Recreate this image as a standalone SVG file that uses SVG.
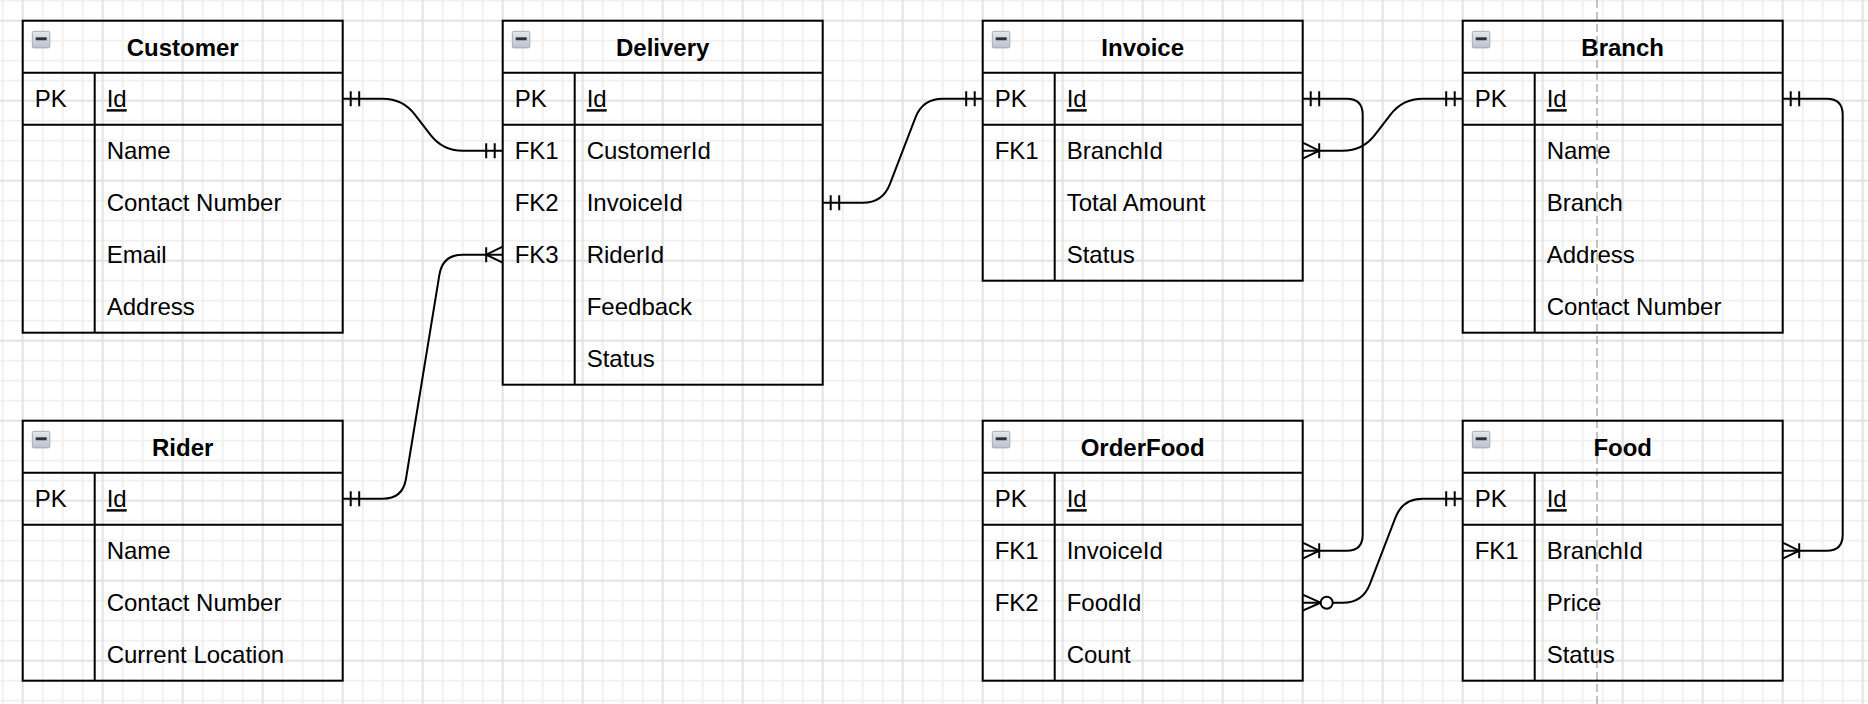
<svg xmlns="http://www.w3.org/2000/svg" xmlns:xlink="http://www.w3.org/1999/xlink" width="1868" height="704" viewBox="0 0 1868 704">
<style>
.tb{fill:none;stroke:#000;stroke-width:2}
.t{font-family:"Liberation Sans",Arial,Helvetica,sans-serif;font-size:24px;fill:#000}
.title{font-weight:bold;text-anchor:middle}
.u{text-decoration:underline}
.edge{fill:none;stroke:#000;stroke-width:2}
.mk{fill:none;stroke:#000;stroke-width:2}
</style>
<defs>
<pattern id="grid" patternUnits="userSpaceOnUse" x="22.7" y="20.7" width="80" height="80">
<path d="M20,0V80M40,0V80M60,0V80M0,20H80M0,40H80M0,60H80" stroke="#f1f1f1" stroke-width="2" fill="none"/>
<path d="M0,0V80M80,0V80M0,0H80M0,80H80" stroke="#e2e2e2" stroke-width="2" fill="none"/>
</pattern>
<linearGradient id="ig" x1="0" y1="0" x2="0" y2="1">
<stop offset="0" stop-color="#e4e8ee"/>
<stop offset="1" stop-color="#b9c2cc"/>
</linearGradient>
<g id="icon">
<rect x="9.6" y="10.6" width="17.5" height="16.6" rx="1.5" fill="url(#ig)" stroke="#a3adb8" stroke-width="1"/>
<rect x="13" y="16.6" width="11" height="3" fill="#333"/>
</g>
<marker id="mOne" markerUnits="userSpaceOnUse" orient="auto-start-reverse" markerWidth="40" markerHeight="40" refX="0" refY="0" overflow="visible" style="overflow:visible">
<path class="mk" d="M-8,-7.5V7.5M-16.5,-7.5V7.5"/>
</marker>
<marker id="mMany" markerUnits="userSpaceOnUse" orient="auto-start-reverse" markerWidth="40" markerHeight="40" refX="0" refY="0" overflow="visible" style="overflow:visible">
<path class="mk" d="M0,-8L-16.5,0L0,8M-16.5,-7.5V7.5"/>
</marker>
<marker id="mZeroMany" markerUnits="userSpaceOnUse" orient="auto-start-reverse" markerWidth="50" markerHeight="40" refX="0" refY="0" overflow="visible" style="overflow:visible">
<path class="mk" d="M0,-8L-18,0L0,8"/>
<circle cx="-24" cy="0" r="6" fill="#fff" stroke="#000" stroke-width="2"/>
</marker>
</defs>
<rect x="0" y="0" width="1868" height="704" fill="#fff"/>
<rect x="0" y="0" width="1868" height="704" fill="url(#grid)"/>
<line x1="1597" y1="0" x2="1597" y2="704" stroke="#bdbdbd" stroke-width="1.8" stroke-dasharray="8 4"/>

<g id="customer">
<rect class="tb" x="22.7" y="20.7" width="320" height="312"/>
<path class="tb" d="M22.7,72.7H342.7M22.7,124.7H342.7M94.7,72.7V332.7"/>
<use xlink:href="#icon" x="22.7" y="20.7"/>
<text class="t title" x="182.7" y="56.2">Customer</text>
<text class="t" x="34.7" y="107.2">PK</text>
<text class="t u" x="106.7" y="107.2">Id</text>
<text class="t" x="106.7" y="159.2">Name</text>
<text class="t" x="106.7" y="211.2">Contact Number</text>
<text class="t" x="106.7" y="263.2">Email</text>
<text class="t" x="106.7" y="315.2">Address</text>
</g>

<g id="delivery">
<rect class="tb" x="502.7" y="20.7" width="320" height="364"/>
<path class="tb" d="M502.7,72.7H822.7M502.7,124.7H822.7M574.7,72.7V384.7"/>
<use xlink:href="#icon" x="502.7" y="20.7"/>
<text class="t title" x="662.7" y="56.2">Delivery</text>
<text class="t" x="514.7" y="107.2">PK</text>
<text class="t u" x="586.7" y="107.2">Id</text>
<text class="t" x="514.7" y="159.2">FK1</text>
<text class="t" x="586.7" y="159.2">CustomerId</text>
<text class="t" x="514.7" y="211.2">FK2</text>
<text class="t" x="586.7" y="211.2">InvoiceId</text>
<text class="t" x="514.7" y="263.2">FK3</text>
<text class="t" x="586.7" y="263.2">RiderId</text>
<text class="t" x="586.7" y="315.2">Feedback</text>
<text class="t" x="586.7" y="367.2">Status</text>
</g>

<g id="invoice">
<rect class="tb" x="982.7" y="20.7" width="320" height="260"/>
<path class="tb" d="M982.7,72.7H1302.7M982.7,124.7H1302.7M1054.7,72.7V280.7"/>
<use xlink:href="#icon" x="982.7" y="20.7"/>
<text class="t title" x="1142.7" y="56.2">Invoice</text>
<text class="t" x="994.7" y="107.2">PK</text>
<text class="t u" x="1066.7" y="107.2">Id</text>
<text class="t" x="994.7" y="159.2">FK1</text>
<text class="t" x="1066.7" y="159.2">BranchId</text>
<text class="t" x="1066.7" y="211.2">Total Amount</text>
<text class="t" x="1066.7" y="263.2">Status</text>
</g>

<g id="branch">
<rect class="tb" x="1462.7" y="20.7" width="320" height="312"/>
<path class="tb" d="M1462.7,72.7H1782.7M1462.7,124.7H1782.7M1534.7,72.7V332.7"/>
<use xlink:href="#icon" x="1462.7" y="20.7"/>
<text class="t title" x="1622.7" y="56.2">Branch</text>
<text class="t" x="1474.7" y="107.2">PK</text>
<text class="t u" x="1546.7" y="107.2">Id</text>
<text class="t" x="1546.7" y="159.2">Name</text>
<text class="t" x="1546.7" y="211.2">Branch</text>
<text class="t" x="1546.7" y="263.2">Address</text>
<text class="t" x="1546.7" y="315.2">Contact Number</text>
</g>

<g id="rider">
<rect class="tb" x="22.7" y="420.7" width="320" height="260"/>
<path class="tb" d="M22.7,472.7H342.7M22.7,524.7H342.7M94.7,472.7V680.7"/>
<use xlink:href="#icon" x="22.7" y="420.7"/>
<text class="t title" x="182.7" y="456.2">Rider</text>
<text class="t" x="34.7" y="507.2">PK</text>
<text class="t u" x="106.7" y="507.2">Id</text>
<text class="t" x="106.7" y="559.2">Name</text>
<text class="t" x="106.7" y="611.2">Contact Number</text>
<text class="t" x="106.7" y="663.2">Current Location</text>
</g>

<g id="orderfood">
<rect class="tb" x="982.7" y="420.7" width="320" height="260"/>
<path class="tb" d="M982.7,472.7H1302.7M982.7,524.7H1302.7M1054.7,472.7V680.7"/>
<use xlink:href="#icon" x="982.7" y="420.7"/>
<text class="t title" x="1142.7" y="456.2">OrderFood</text>
<text class="t" x="994.7" y="507.2">PK</text>
<text class="t u" x="1066.7" y="507.2">Id</text>
<text class="t" x="994.7" y="559.2">FK1</text>
<text class="t" x="1066.7" y="559.2">InvoiceId</text>
<text class="t" x="994.7" y="611.2">FK2</text>
<text class="t" x="1066.7" y="611.2">FoodId</text>
<text class="t" x="1066.7" y="663.2">Count</text>
</g>

<g id="food">
<rect class="tb" x="1462.7" y="420.7" width="320" height="260"/>
<path class="tb" d="M1462.7,472.7H1782.7M1462.7,524.7H1782.7M1534.7,472.7V680.7"/>
<use xlink:href="#icon" x="1462.7" y="420.7"/>
<text class="t title" x="1622.7" y="456.2">Food</text>
<text class="t" x="1474.7" y="507.2">PK</text>
<text class="t u" x="1546.7" y="507.2">Id</text>
<text class="t" x="1474.7" y="559.2">FK1</text>
<text class="t" x="1546.7" y="559.2">BranchId</text>
<text class="t" x="1546.7" y="611.2">Price</text>
<text class="t" x="1546.7" y="663.2">Status</text>
</g>

<g id="connectors">
<path id="e-customer-delivery" class="edge" marker-start="url(#mOne)" marker-end="url(#mOne)" d="M342.7,98.7H382.7Q402.7,98.7 414.9,114.55L430.5,134.85Q442.7,150.7 462.7,150.7H502.7"/>
<path id="e-rider-delivery" class="edge" marker-start="url(#mOne)" marker-end="url(#mMany)" d="M342.7,498.7H382.7Q402.7,498.7 405.94,478.97L439.46,274.43Q442.7,254.7 462.7,254.7H502.7"/>
<path id="e-delivery-invoice" class="edge" marker-start="url(#mOne)" marker-end="url(#mOne)" d="M822.7,202.7H862.7Q882.7,202.7 889.88,184.03L915.52,117.37Q922.7,98.7 942.7,98.7H982.7"/>
<path id="e-invoice-orderfood" class="edge" marker-start="url(#mOne)" marker-end="url(#mMany)" d="M1302.7,98.7H1346.7Q1362.7,98.7 1362.7,114.7V534.7Q1362.7,550.7 1346.7,550.7H1302.7"/>
<path id="e-invoice-branch" class="edge" marker-start="url(#mMany)" marker-end="url(#mOne)" d="M1302.7,150.7H1342.7Q1362.7,150.7 1374.89,134.85L1390.51,114.55Q1402.7,98.7 1422.7,98.7H1462.7"/>
<path id="e-branch-food" class="edge" marker-start="url(#mOne)" marker-end="url(#mMany)" d="M1782.7,98.7H1826.7Q1842.7,98.7 1842.7,114.7V534.7Q1842.7,550.7 1826.7,550.7H1782.7"/>
<path id="e-orderfood-food" class="edge" marker-start="url(#mZeroMany)" marker-end="url(#mOne)" d="M1302.7,602.7H1342.7Q1362.7,602.7 1369.88,584.03L1395.52,517.37Q1402.7,498.7 1422.7,498.7H1462.7"/>
</g>
</svg>
